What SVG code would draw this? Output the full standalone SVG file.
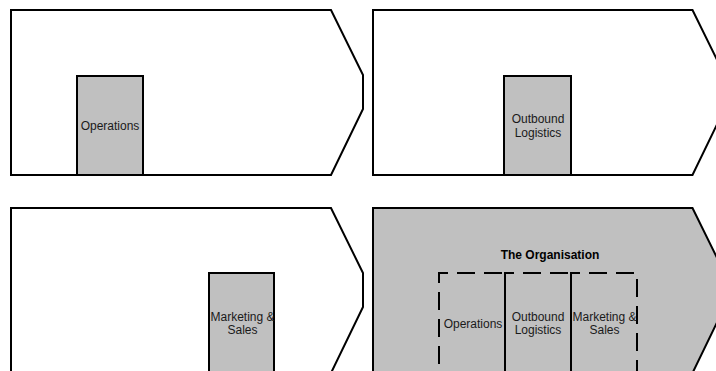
<svg xmlns="http://www.w3.org/2000/svg" width="716" height="371" viewBox="0 0 716 371">
<style>
.panel{fill:#ffffff;stroke:#000;stroke-width:2;stroke-linejoin:miter}
.panel.org{fill:#c0c0c0}
.box{fill:#c0c0c0;stroke:#000;stroke-width:2}
.dash{fill:none;stroke:#000;stroke-width:2;stroke-dasharray:18 9;stroke-dashoffset:9}
text{font-family:"Liberation Sans",Arial,sans-serif;font-size:12px;fill:#1a1a1a;text-anchor:middle}
.title{font-weight:bold;fill:#000}
</style>
<rect width="716" height="371" fill="#ffffff"/>
<g id="panel-operations">
  <polygon class="panel" points="11,10 331,10 363,75 363,109 331,175 11,175"/>
  <g id="box-operations">
    <rect class="box" x="77" y="76" width="66" height="99"/>
    <text x="110" y="130.3">Operations</text>
  </g>
</g>
<g id="panel-outbound">
  <polygon class="panel" points="373,10 692.5,10 724.5,75 724.5,109 692.5,175 373,175"/>
  <g id="box-outbound">
    <rect class="box" x="504" y="76" width="67" height="99"/>
    <text x="538" y="122.5">Outbound</text>
    <text x="538" y="136.8">Logistics</text>
  </g>
</g>
<g id="panel-marketing">
  <polygon class="panel" points="11,208 331,208 363,273 363,307 331,373 11,373"/>
  <g id="box-marketing">
    <rect class="box" x="209" y="273" width="65" height="110"/>
    <text x="242.5" y="321">Marketing &amp;</text>
    <text x="242.5" y="334.3">Sales</text>
  </g>
</g>
<g id="panel-organisation">
  <polygon class="panel org" points="373,208 692.5,208 724.5,273 724.5,307 692.5,373 373,373"/>
  <text class="title" x="550" y="259.3">The Organisation</text>
  <g id="org-operations">
    <rect class="dash" x="439" y="273" width="66" height="110"/>
    <text x="473" y="327.5">Operations</text>
  </g>
  <g id="org-outbound">
    <rect class="dash" x="505" y="273" width="66" height="110"/>
    <text x="538" y="321">Outbound</text>
    <text x="538" y="334.3">Logistics</text>
  </g>
  <g id="org-marketing">
    <rect class="dash" x="571" y="273" width="66" height="110"/>
    <text x="604.5" y="321">Marketing &amp;</text>
    <text x="604.5" y="334.3">Sales</text>
  </g>
</g>
<g id="connectors"/>
</svg>
